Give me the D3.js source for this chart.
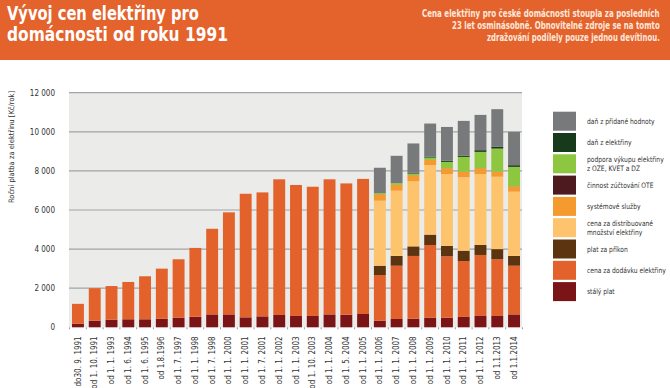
<!DOCTYPE html>
<html><head><meta charset="utf-8">
<script src="https://cdn.jsdelivr.net/npm/d3@7"></script>
<style>
html,body{margin:0;padding:0;background:#fff;}
svg{display:block;}
text{font-family:"Liberation Sans Narrow","DejaVu Sans Condensed","Arial Narrow",sans-serif;}
</style></head>
<body><svg id="c" width="670" height="388"></svg>
<script>
const titleLines = ["Vývoj cen elektřiny pro", "domácnosti od roku 1991"];
const subtitleLines = [
  "Cena elektřiny pro české domácnosti stoupla za posledních",
  "23 let osminásobně. Obnovitelné zdroje se na tomto",
  "zdražování podílely pouze jednou devítinou."
];
const yAxisTitle = "Roční platba za elektřinu [Kč/rok]";
const yTicks = [0, 2000, 4000, 6000, 8000, 10000, 12000];
const categories = ["do30. 9. 1991","od 1. 10. 1991","od 1. 1. 1993","od 1. 6. 1994","od 1. 6. 1995","od 1.8.1996","od 1. 7. 1997","od 1. 1. 1998","od 1. 7. 1998","od 1. 1. 2000","od 1. 1. 2001","od 1. 7. 2001","od 1. 1. 2002","od 1. 1. 2003","od 1. 10. 2003","od 1. 1. 2004","od 1. 5. 2004","od 1. 1. 2005","od 1. 1. 2006","od 1. 1. 2007","od 1. 1. 2008","od 1. 1. 2009","od 1. 1. 2010","od 1. 1. 2011","od 1. 1. 2012","od 1.1.2013","od 1.1.2014"];
const seriesNames = ["stálý plat","cena za dodávku elektřiny","plat za příkon","cena za distribuované množství elektřiny","systémové služby","činnost zúčtování OTE","podpora výkupu elektřiny z OZE, KVET a DZ","daň z elektřiny","daň z přidané hodnoty"];
const legendLines = [["stálý plat"],["cena za dodávku elektřiny"],["plat za příkon"],["cena za distribuované","množství elektřiny"],["systémové služby"],["činnost zúčtování OTE"],["podpora výkupu elektřiny","z OZE, KVET a DZ"],["daň z elektřiny"],["daň z přidané hodnoty"]];
const stalyPlat   = [190,340,390,410,410,440,490,540,660,660,510,560,630,580,580,660,645,680,340,425,440,490,490,530,580,580,660];
const dodavka     = [1010,1660,1720,1910,2200,2560,2990,3520,4380,5220,6320,6340,6940,6700,6610,6910,6715,6910,2335,2725,3210,3720,3140,2860,3120,2900,2490];
const prikon      = [0,0,0,0,0,0,0,0,0,0,0,0,0,0,0,0,0,0,475,500,490,530,530,530,510,520,500];
const distribuce  = [0,0,0,0,0,0,0,0,0,0,0,0,0,0,0,0,0,0,3325,3337,3328,3562,3681,3753,3631,3703,3286];
const systemove   = [0,0,0,0,0,0,0,0,0,0,0,0,0,0,0,0,0,0,330,293,307,256,292,286,292,256,276];
const ote         = [0,0,0,0,0,0,0,0,0,0,0,0,0,0,0,0,0,0,6,6,6,6,6,6,6,6,6];
const oze         = [0,0,0,0,0,0,0,0,0,0,0,0,0,0,0,0,0,0,50,86,82,117,322,752,834,1177,988];
const danElektriny= [0,0,0,0,0,0,0,0,0,0,0,0,0,0,0,0,0,0,0,0,51,51,67,66,87,102,86];
const dph         = [0,0,0,0,0,0,0,0,0,0,0,0,0,0,0,0,0,0,1300,1400,1490,1690,1720,1775,1805,1913,1704];
const colors = ["#7b1416","#e3622b","#5c340f","#fdc46d","#f59a2f","#4c1a1f","#8dc63f","#173a1c","#77797a"];

const seriesValues = [stalyPlat,dodavka,prikon,distribuce,systemove,ote,oze,danElektriny,dph];
const rows = categories.map((c,i)=>{const r={cat:c}; seriesNames.forEach((s,k)=>r[s]=seriesValues[k][i]); return r;});
const stack = d3.stack().keys(seriesNames)(rows);

const svg = d3.select("#c");
const W=670,H=388;

// helper: draw text horizontally squeezed to a target width
function squeezed(parent, str, xPos, yPos, size, weight, fill, targetW, anchor){
  const g = parent.append("g");
  const t = g.append("text").attr("font-size",size).attr("font-weight",weight).attr("fill",fill).text(str);
  const w = t.node().getComputedTextLength();
  const sx = targetW ? Math.min(1, targetW/w) : 1;
  const x0 = anchor==="end" ? xPos - w*sx : xPos;
  g.attr("transform",`translate(${x0},${yPos}) scale(${sx},1)`);
  return g;
}

// header
svg.append("rect").attr("x",0).attr("y",0).attr("width",W).attr("height",60).attr("fill","#e4622c");
const tl=[192,221];
titleLines.forEach((t,i)=>squeezed(svg,t,7,20+i*21,19.5,"bold","#fff",tl[i]));
const sl=[238,208,173];
subtitleLines.forEach((t,i)=>squeezed(svg,t,660,17+i*12,10,"bold","#fce8dc",sl[i],"end"));

const x = d3.scaleBand().domain(categories).range([70,522]).paddingInner(0.29).paddingOuter(0.12);
const y = d3.scaleLinear().domain([0,12000]).range([327.3,92.7]);

svg.append("rect").attr("x",69).attr("y",y(12000)).attr("width",522-69).attr("height",y(0)-y(12000)).attr("fill","#ebebea");
// y axis + grid
const yAxis = svg.append("g").attr("transform","translate(69,0)")
  .call(d3.axisLeft(y).tickValues(yTicks).tickSize(0).tickPadding(14).tickFormat(d=>d3.format(",")(d).replace(",", " ")));
yAxis.select(".domain").remove();
yAxis.selectAll("text").attr("font-size",8).attr("fill","#333").attr("font-family",'"Liberation Sans Narrow","DejaVu Sans Condensed",sans-serif');
svg.append("g").selectAll("line").data(yTicks.filter(d=>d>0)).join("line")
  .attr("x1",69).attr("x2",522).attr("y1",d=>y(d)).attr("y2",d=>y(d)).attr("stroke","#a3a3a3").attr("stroke-width",1.2);

svg.append("text").attr("transform",`translate(14,${147}) rotate(-90)`).attr("text-anchor","middle")
  .attr("font-size",7.5).attr("fill","#333").text(yAxisTitle);

// bars
svg.append("g").selectAll("g").data(stack).join("g").attr("fill",(d,i)=>colors[i])
  .selectAll("rect").data(d=>d).join("rect")
  .attr("x",d=>x(d.data.cat)).attr("width",x.bandwidth())
  .attr("y",d=>y(d[1])).attr("height",d=>Math.max(0,y(d[0])-y(d[1])));

// x axis
const xAxis = svg.append("g").attr("transform",`translate(0,${y(0)})`).call(d3.axisBottom(x).tickSize(0).tickPadding(0));
xAxis.select(".domain").remove();
xAxis.selectAll(".tick text")
  .attr("transform","rotate(-90)").attr("x",-9).attr("y",0).attr("dy","0.32em").attr("text-anchor","end")
  .attr("font-size",8).attr("fill","#333").attr("font-family",'"Liberation Sans Narrow","DejaVu Sans Condensed",sans-serif');
// small ticks at band boundaries
const step = x.step();
svg.append("g").selectAll("line").data(categories.concat([null])).join("line")
  .attr("x1",(d,i)=>x(categories[0]) - (step-x.bandwidth())/2 + i*step)
  .attr("x2",(d,i)=>x(categories[0]) - (step-x.bandwidth())/2 + i*step)
  .attr("y1",y(0)).attr("y2",y(0)+2).attr("stroke","#999").attr("stroke-width",1);

// legend
const legSize = 7.5;
const probe = svg.append("text").attr("font-size",legSize).text("cena za dodávku elektřiny");
const legSx = Math.min(1, 79/probe.node().getComputedTextLength());
probe.remove();
const legTop = 111.7, legStep = 21.3;
const lg = svg.append("g");
for(let k=seriesNames.length-1, j=0;k>=0;k--,j++){
  const yy = legTop + j*legStep;
  lg.append("rect").attr("x",553).attr("y",yy).attr("width",23).attr("height",19).attr("fill",colors[k]);
  const lines = legendLines[k];
  const cy = yy+9.5;
  lines.forEach((ln,li)=>{
    lg.append("g").attr("transform",`translate(587,${cy + (li-(lines.length-1)/2)*8.5 + 2.6}) scale(${legSx},1)`)
      .append("text").attr("font-size",legSize).attr("fill","#333").text(ln);
  });
}
</script></body></html>
